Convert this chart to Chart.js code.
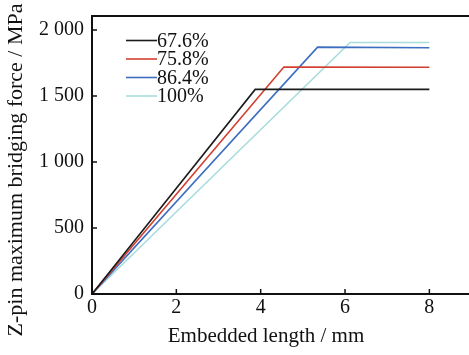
<!DOCTYPE html>
<html>
<head>
<meta charset="utf-8">
<script src="https://cdn.jsdelivr.net/npm/chart.js@4.4.0/dist/chart.umd.min.js"></script>
<style>
  html, body { margin: 0; padding: 0; background: #fff; }
  #wrap { width: 469px; height: 355px; }
</style>
</head>
<body>
<div id="wrap"><canvas id="c"></canvas></div>
<script>
// fibre volume fractions and curve break points
const series = ['67.6%', '75.8%', '86.4%', '100%'];
const colors = ['#1b1b1b', '#d23f30', '#3d6fc0', '#a9dcdc'];
const xBreak = [3.87, 4.55, 5.35, 6.12];
const yPeak = [1550, 1720, 1870, 1905];
const yEnd = [1550, 1718, 1866, 1905];
const xEnd = 8;
const xTicks = [0, 2, 4, 6, 8];
const yTicks = [0, 500, 1000, 1500, 2000];
const xTitle = 'Embedded length / mm';
const yTitle = 'Z-pin maximum bridging force / MPa';

const font = 'Liberation Serif, Times New Roman, serif';

const datasets = series.map((s, i) => ({
    label: s,
    data: [{ x: 0, y: 0 }, { x: xBreak[i], y: yPeak[i] }, { x: xEnd, y: yEnd[i] }],
    borderColor: colors[i],
    borderWidth: 1.6,
    pointRadius: 0,
    showLine: true,
    tension: 0
}));

// box on three sides, inward ticks, axis titles and the legend inside the plot
const frame = {
    id: 'frame',
    afterDraw(chart) {
        const { ctx, chartArea: a, scales: { x, y } } = chart;
        ctx.save();
        ctx.strokeStyle = '#111';
        ctx.lineWidth = 2;
        ctx.beginPath();
        ctx.moveTo(a.right + 2, a.top);
        ctx.lineTo(a.left, a.top);
        ctx.lineTo(a.left, a.bottom);
        ctx.lineTo(a.right + 2, a.bottom);
        ctx.stroke();
        ctx.lineWidth = 1.5;
        ctx.beginPath();
        xTicks.forEach(v => {
            const px = x.getPixelForValue(v);
            ctx.moveTo(px, a.bottom);
            ctx.lineTo(px, a.bottom - 5);
        });
        yTicks.forEach(v => {
            const py = y.getPixelForValue(v);
            ctx.moveTo(a.left, py);
            ctx.lineTo(a.left + 5, py);
        });
        ctx.stroke();

        ctx.fillStyle = '#111';
        ctx.textBaseline = 'middle';
        ctx.textAlign = 'center';
        ctx.font = '21px ' + font;
        ctx.fillText(xTitle, 266, 336);
        ctx.save();
        ctx.translate(16, 170);
        ctx.rotate(-Math.PI / 2);
        ctx.font = '22px ' + font;
        ctx.fillText(yTitle, 0, 0);
        ctx.restore();

        ctx.font = '20px ' + font;
        ctx.textAlign = 'left';
        series.forEach((s, i) => {
            const ly = 40.5 + i * 18.5;
            ctx.strokeStyle = colors[i];
            ctx.lineWidth = 1.6;
            ctx.beginPath();
            ctx.moveTo(126, ly);
            ctx.lineTo(157, ly);
            ctx.stroke();
            ctx.fillStyle = '#111';
            ctx.fillText(s, 157, ly + 1);
        });
        ctx.restore();
    }
};

new Chart(document.getElementById('c').getContext('2d'), {
    type: 'scatter',
    data: { datasets },
    options: {
        responsive: true,
        maintainAspectRatio: false,
        animation: false,
        layout: { padding: { top: 16, right: 0, left: 0, bottom: 0 } },
        plugins: { legend: { display: false }, tooltip: { enabled: false } },
        scales: {
            x: {
                type: 'linear',
                min: 0,
                max: 8.94,
                afterBuildTicks: s => { s.ticks = xTicks.map(v => ({ value: v })); },
                afterFit: s => { s.height = 61; s.paddingLeft = 0; s.paddingRight = 0; },
                grid: { display: false, drawTicks: false },
                border: { display: false },
                ticks: { color: '#111', font: { family: font, size: 20 }, padding: 2, maxRotation: 0 }
            },
            y: {
                min: 0,
                max: 2106,
                afterBuildTicks: s => { s.ticks = yTicks.map(v => ({ value: v })); },
                afterFit: s => { s.width = 92; s.paddingTop = 0; s.paddingBottom = 0; },
                grid: { display: false, drawTicks: false },
                border: { display: false },
                ticks: {
                    color: '#111',
                    font: { family: font, size: 20 },
                    padding: 8,
                    callback: v => v >= 1000 ? Math.floor(v / 1000) + ' ' + String(v % 1000).padStart(3, '0') : String(v)
                }
            }
        }
    },
    plugins: [frame]
});
</script>
</body>
</html>
